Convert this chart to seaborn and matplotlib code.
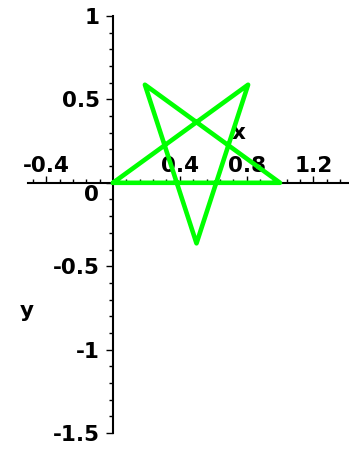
import matplotlib
matplotlib.use("Agg")
import matplotlib.pyplot as plt
from matplotlib.ticker import MultipleLocator, FixedLocator, FixedFormatter
import seaborn as sns
import pandas as pd

# Pentagram traced with unit-length strokes, turning 144 degrees each time
star_x = [0.0, 0.809, 0.5, 0.191, 1.0, 0.0]
star_y = [0.0, 0.588, -0.363, 0.588, 0.0, 0.0]

x_ticks = [-0.4, 0.4, 0.8, 1.2]
x_tick_labels = ["-0.4", "0.4", "0.8", "1.2"]
y_ticks = [-1.5, -1.0, -0.5, 0.0, 0.5, 1.0]
y_tick_labels = ["-1.5", "-1", "-0.5", "", "0.5", "1"]

sns.set_style("white")
plt.rcParams["font.family"] = ["DejaVu Sans"]
plt.rcParams["axes.unicode_minus"] = False
plt.rcParams["text.color"] = "black"
plt.rcParams["axes.labelcolor"] = "black"

FS = 15.5

W, H = 349, 450
fig = plt.figure(figsize=(W / 100, H / 100), dpi=100)

# axes box in pixels: columns 28..349, rows 16..433
left_px, right_px, top_px, bottom_px = 28, 349, 16, 433
ax = fig.add_axes([left_px / W, (H - bottom_px) / H,
                   (right_px - left_px) / W, (bottom_px - top_px) / H])

scale = 167.0  # pixels per data unit on both axes
ax.set_xlim(-(113 - left_px) / scale, (right_px - 113) / scale)
ax.set_ylim(-1.5, 1.0)

df = pd.DataFrame({"x": star_x, "y": star_y, "order": range(len(star_x))})
sns.lineplot(data=df, x="x", y="y", sort=False, estimator=None,
             color="#00ff00", linewidth=3.3, ax=ax, zorder=5)

# axes crossing at the origin
for side in ("top", "right"):
    ax.spines[side].set_visible(False)
ax.spines["left"].set_position(("data", 0))
ax.spines["bottom"].set_position(("data", 0))
for side in ("left", "bottom"):
    ax.spines[side].set_linewidth(1.5)
    ax.spines[side].set_color("black")
    ax.spines[side].set_zorder(1)

tick_font = dict(fontsize=FS, fontweight="bold", color="black")

ax.xaxis.set_major_locator(FixedLocator(x_ticks))
ax.xaxis.set_major_formatter(FixedFormatter(x_tick_labels))
ax.xaxis.set_minor_locator(MultipleLocator(0.08))
ax.yaxis.set_major_locator(FixedLocator(y_ticks))
ax.yaxis.set_major_formatter(FixedFormatter(y_tick_labels))
ax.yaxis.set_minor_locator(MultipleLocator(0.1))

ax.tick_params(axis="x", which="both", direction="in", bottom=True, color="black",
               labelcolor="black", width=1.0, pad=-19.5, labelsize=FS)
ax.tick_params(axis="x", which="major", length=5)
ax.tick_params(axis="x", which="minor", length=3)
ax.tick_params(axis="y", which="both", direction="out", left=True, color="black",
               labelcolor="black", width=1.0, pad=4.5, labelsize=FS)
ax.tick_params(axis="y", which="major", length=5)
ax.tick_params(axis="y", which="minor", length=3)
for lab in ax.get_xticklabels() + ax.get_yticklabels():
    lab.set_fontweight("bold")

# the zero on the vertical axis sits just below the horizontal axis
ax.annotate("0", xy=(0, 0), xycoords="data", xytext=(-10, -9),
            textcoords="offset points", ha="right", va="center", **tick_font)

ax.set_xlabel("x", fontsize=FS, fontweight="bold", color="black",
              ha="center", va="center")
ax.xaxis.set_label_coords(126 / scale, 50 / scale, transform=ax.transData)
ax.set_ylabel("y", fontsize=FS, fontweight="bold", color="black", rotation=0,
              ha="center", va="center")
ax.yaxis.set_label_coords(-86 / scale, -128 / scale, transform=ax.transData)

fig.savefig("out.png", dpi=100)
